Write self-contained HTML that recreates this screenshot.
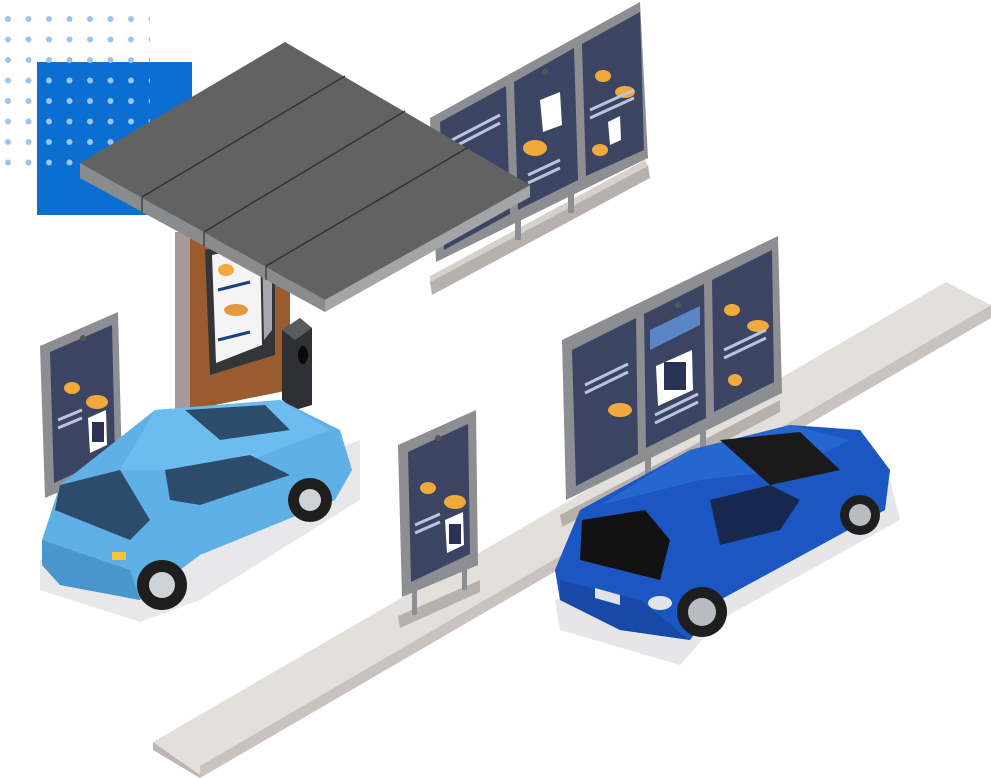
<!DOCTYPE html>
<html><head><style>html,body{margin:0;padding:0;background:#fff;width:991px;height:778px;overflow:hidden}</style></head>
<body>
<svg width="991" height="778" viewBox="0 0 991 778" xmlns="http://www.w3.org/2000/svg">
<defs>
<pattern id="dots" x="5" y="16" width="20.5" height="20.5" patternUnits="userSpaceOnUse"><circle cx="3" cy="3" r="3" fill="#9cc4ee"/></pattern>
</defs>
<rect x="37" y="62" width="155" height="153" fill="#0b6fd1"/>
<rect x="0" y="14" width="150" height="162" fill="url(#dots)"/>

<!-- road -->
<polygon points="153,742 946,282 991,305 200,775" fill="#e3e0dc"/>
<polygon points="153,742 200,775 200,778 153,750" fill="#bdb5b2"/>
<polygon points="200,766 991,305 991,318 200,778" fill="#c9c2be"/>

<!-- back boards -->
<polygon points="430,282 648,165 650,178 432,295" fill="#b8b0ad"/>
<polygon points="430,276 645,160 648,166 430,282" fill="#d7d1ce"/>
<rect x="515" y="200" width="6" height="40" fill="#8d8e91" transform="skewY(0)"/>
<rect x="568" y="175" width="6" height="38" fill="#8d8e91"/>
<polygon points="430,118 640,2 648,158 436,262" fill="#8d8e91"/>
<polygon points="440,122 506,86 510,214 444,250" fill="#3c4464"/>
<polygon points="514,82 574,48 578,180 518,210" fill="#3c4464"/>
<polygon points="582,44 640,12 644,150 586,176" fill="#3c4464"/>
<circle cx="545" cy="72" r="3" fill="#555"/>
<g fill="#f2a93b"><ellipse cx="535" cy="148" rx="12" ry="8"/><ellipse cx="600" cy="150" rx="8" ry="6"/><ellipse cx="603" cy="76" rx="8" ry="6"/><ellipse cx="625" cy="92" rx="10" ry="6"/></g>
<g fill="#fff"><polygon points="540,100 560,92 562,125 543,132"/><polygon points="608,122 620,116 621,140 610,145"/></g>
<g stroke="#b9c4dd" stroke-width="3"><line x1="528" y1="175" x2="560" y2="160"/><line x1="528" y1="183" x2="560" y2="168"/><line x1="590" y1="110" x2="634" y2="90"/><line x1="590" y1="118" x2="634" y2="98"/><line x1="452" y1="140" x2="500" y2="115"/><line x1="452" y1="148" x2="500" y2="123"/></g>

<!-- kiosk pillar -->
<polygon points="175,232 190,232 190,410 175,410" fill="#a89a9a"/>
<polygon points="190,232 290,220 290,390 190,410" fill="#9a5c2e"/>
<polygon points="205,250 275,235 275,355 210,375" fill="#333538"/>
<polygon points="212,255 260,245 262,345 216,363" fill="#f4f4f4"/>
<polygon points="262,245 272,243 272,330 264,340" fill="#a6a8ab"/>
<ellipse cx="226" cy="270" rx="8" ry="6" fill="#f2a93b"/>
<ellipse cx="236" cy="310" rx="12" ry="6" fill="#e69a40"/>
<g stroke="#1c3f7c" stroke-width="3"><line x1="218" y1="290" x2="250" y2="282"/><line x1="218" y1="340" x2="250" y2="332"/></g>
<polygon points="282,330 300,318 312,328 312,405 295,410 282,400" fill="#2f3033"/>
<polygon points="282,330 300,318 312,328 295,340" fill="#5a5b5e"/>
<ellipse cx="303" cy="355" rx="5" ry="9" fill="#0a0a0a"/>

<!-- canopy -->
<polygon points="80,163 325,300 325,312 80,178" fill="#8a8b8d"/>
<polygon points="325,300 530,185 530,197 325,312" fill="#a4a5a7"/>
<polygon points="80,163 285,42 530,185 325,300" fill="#626262"/>
<g stroke="#333" stroke-width="1.5"><line x1="142" y1="197" x2="345" y2="76"/><line x1="204" y1="232" x2="405" y2="111"/><line x1="266" y1="266" x2="467" y2="148"/></g>
<g stroke="#444" stroke-width="1.5"><line x1="142" y1="197" x2="142" y2="212"/><line x1="204" y1="232" x2="204" y2="246"/><line x1="266" y1="266" x2="266" y2="280"/></g>

<!-- front right boards -->
<polygon points="560,515 780,400 780,412 562,527" fill="#b8b0ad"/>
<rect x="645" y="445" width="6" height="30" fill="#8d8e91"/>
<rect x="700" y="418" width="6" height="30" fill="#8d8e91"/>
<polygon points="562,340 778,236 782,393 566,500" fill="#8d8e91"/>
<polygon points="572,350 636,318 638,454 576,486" fill="#3c4464"/>
<polygon points="644,314 704,284 706,418 646,448" fill="#3c4464"/>
<polygon points="712,280 772,250 774,382 714,412" fill="#3c4464"/>
<polygon points="650,330 700,306 700,325 650,350" fill="#5a86c8"/>
<polygon points="656,366 692,350 693,390 658,406" fill="#fff"/>
<rect x="664" y="362" width="22" height="28" fill="#2a3355"/>
<g fill="#f2a93b"><ellipse cx="620" cy="410" rx="12" ry="7"/><ellipse cx="732" cy="310" rx="8" ry="6"/><ellipse cx="758" cy="326" rx="11" ry="6"/><ellipse cx="735" cy="380" rx="7" ry="6"/></g>
<g stroke="#b9c4dd" stroke-width="3"><line x1="585" y1="385" x2="628" y2="364"/><line x1="585" y1="393" x2="628" y2="372"/><line x1="655" y1="415" x2="698" y2="394"/><line x1="655" y1="423" x2="698" y2="402"/><line x1="724" y1="350" x2="766" y2="330"/><line x1="724" y1="358" x2="766" y2="338"/></g>
<circle cx="678" cy="305" r="3" fill="#555"/>

<!-- left board -->
<polygon points="40,346 118,312 122,465 45,498" fill="#8d8e91"/>
<polygon points="50,352 112,325 115,455 54,483" fill="#3c4464"/>
<polygon points="88,418 106,410 107,445 90,453" fill="#fff"/>
<rect x="92" y="422" width="12" height="20" fill="#2a3355"/>
<ellipse cx="97" cy="402" rx="11" ry="7" fill="#f2a93b"/>
<ellipse cx="72" cy="388" rx="8" ry="6" fill="#f2a93b"/>
<g stroke="#b9c4dd" stroke-width="3"><line x1="58" y1="420" x2="82" y2="410"/><line x1="58" y1="428" x2="82" y2="418"/></g>
<circle cx="83" cy="338" r="3" fill="#555"/>

<!-- middle board -->
<polygon points="398,616 480,580 480,592 400,628" fill="#b8b0ad"/>
<rect x="412" y="585" width="5" height="30" fill="#8d8e91"/>
<rect x="462" y="565" width="5" height="25" fill="#8d8e91"/>
<polygon points="398,445 476,410 478,565 402,597" fill="#8d8e91"/>
<polygon points="408,452 468,424 470,554 411,582" fill="#3c4464"/>
<polygon points="445,520 463,512 464,545 447,553" fill="#fff"/>
<rect x="449" y="524" width="12" height="20" fill="#2a3355"/>
<ellipse cx="455" cy="502" rx="11" ry="7" fill="#f2a93b"/>
<ellipse cx="428" cy="488" rx="8" ry="6" fill="#f2a93b"/>
<g stroke="#b9c4dd" stroke-width="3"><line x1="415" y1="525" x2="440" y2="514"/><line x1="415" y1="533" x2="440" y2="522"/></g>
<circle cx="438" cy="438" r="3" fill="#555"/>

<!-- left car -->
<polygon points="40,560 200,500 360,440 360,500 200,600 140,622 40,590" fill="#e8e8ea"/>
<polygon points="42,540 60,485 155,410 280,400 340,430 352,470 335,500 200,555 140,600 60,585 42,565" fill="#5fb0e6"/>
<polygon points="155,410 280,400 330,430 250,460 200,470 120,470" fill="#6cbcef"/>
<polygon points="60,485 120,470 150,520 130,540 55,510" fill="#2d4b6a"/>
<polygon points="165,470 250,455 290,475 200,505 170,500" fill="#2d4b6a"/>
<polygon points="185,410 265,405 290,430 220,440" fill="#2d4b6a"/>
<polygon points="42,540 130,570 140,600 60,585 42,565" fill="#4a95cc"/>
<circle cx="162" cy="585" r="25" fill="#1e1e1e"/><circle cx="162" cy="585" r="13" fill="#cfd3d8"/>
<circle cx="310" cy="500" r="22" fill="#1e1e1e"/><circle cx="310" cy="500" r="11" fill="#cfd3d8"/>
<rect x="112" y="552" width="14" height="8" fill="#f6c33b"/>

<!-- right car -->
<polygon points="555,600 700,560 890,480 900,520 720,620 680,665 560,630" fill="#e6e6e8"/>
<polygon points="555,570 580,510 690,450 790,425 860,430 890,470 885,510 720,600 690,640 620,630 560,600" fill="#1b56c3"/>
<polygon points="690,450 790,425 850,440 790,470 700,480 600,505" fill="#2566d0"/>
<polygon points="720,440 800,432 840,470 770,485" fill="#1a1a1a"/>
<polygon points="582,520 645,510 670,540 660,580 580,560" fill="#121212"/>
<polygon points="710,500 770,485 800,500 780,530 720,545" fill="#16284e"/>
<polygon points="560,580 640,600 690,640 620,630 560,600" fill="#1848a8"/>
<polygon points="595,588 620,595 620,605 595,598" fill="#dfe3ea"/>
<ellipse cx="660" cy="603" rx="12" ry="7" fill="#dfe3ea"/>
<circle cx="702" cy="612" r="25" fill="#1e1e1e"/><circle cx="702" cy="612" r="14" fill="#b8bcc2"/>
<circle cx="860" cy="515" r="20" fill="#1e1e1e"/><circle cx="860" cy="515" r="11" fill="#b8bcc2"/>
</svg>
</body></html>
